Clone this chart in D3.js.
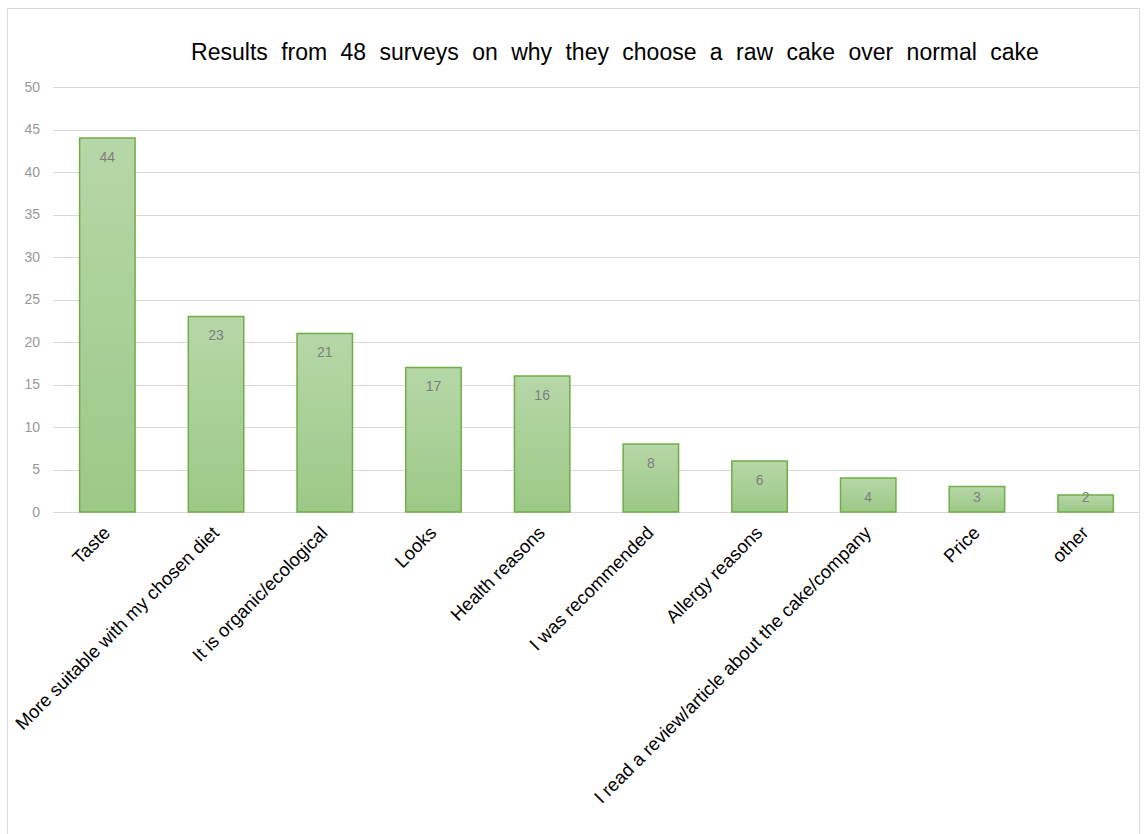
<!doctype html>
<html lang="en">
<head>
  <meta charset="utf-8">
  <title>Raw cake survey</title>
  <style>
    body { margin: 0; background: #fff; }
    svg { font-family: "Liberation Sans", Arial, sans-serif; }
    .grid line { stroke: #d9d9d9; }
    .bar { stroke: #70ad47; stroke-width: 1.5; }
  </style>
</head>
<body>
  <div id="chart"></div>

  <script src="https://d3js.org/d3.v7.min.js"></script>
  <script>
    const categories = ['Taste', 'More suitable with my chosen diet', 'It is organic/ecological', 'Looks',
      'Health reasons', 'I was recommended', 'Allergy reasons',
      'I read a review/article about the cake/company', 'Price', 'other'];
    const counts = [44, 23, 21, 17, 16, 8, 6, 4, 3, 2];
    const yTicks = [0, 5, 10, 15, 20, 25, 30, 35, 40, 45, 50];
    const title = 'Results from 48 surveys on why they choose a raw cake over normal cake';

    const width = 1147, height = 834;
    const margin = { top: 87, right: 7, bottom: 322, left: 53 };

    const svg = d3.select('#chart').append('svg')
      .attr('width', width)
      .attr('height', height);

    // chart frame
    svg.append('rect')
      .attr('x', 7.5).attr('y', 8.5)
      .attr('width', 1132).attr('height', 900)
      .attr('fill', 'none')
      .attr('stroke', '#d9d9d9');

    const defs = svg.append('defs');
    const grad = defs.append('linearGradient')
      .attr('id', 'barGrad')
      .attr('x1', 0).attr('y1', 0).attr('x2', 0).attr('y2', 1);
    grad.append('stop').attr('offset', '0%').attr('stop-color', '#b6d7a8');
    grad.append('stop').attr('offset', '100%').attr('stop-color', '#9cc986');

    const x = d3.scaleBand()
      .domain(categories)
      .range([margin.left, width - margin.right])
      .paddingInner(0.49)
      .paddingOuter(0.245);

    const y = d3.scaleLinear()
      .domain([0, 50])
      .range([height - margin.bottom, margin.top]);

    // gridlines
    svg.append('g')
      .attr('class', 'grid')
      .selectAll('line')
      .data(yTicks)
      .join('line')
      .attr('x1', margin.left)
      .attr('x2', width - margin.right)
      .attr('y1', d => Math.round(y(d)) + 0.5)
      .attr('y2', d => Math.round(y(d)) + 0.5);

    // y tick labels
    svg.append('g')
      .selectAll('text')
      .data(yTicks)
      .join('text')
      .attr('x', 40)
      .attr('y', d => y(d))
      .attr('dy', '0.35em')
      .attr('text-anchor', 'end')
      .attr('fill', '#999')
      .style('font-size', '14px')
      .text(d => d);

    // bars
    svg.append('g')
      .selectAll('rect')
      .data(counts)
      .join('rect')
      .attr('class', 'bar')
      .attr('x', (d, i) => x(categories[i]))
      .attr('y', d => y(d))
      .attr('width', x.bandwidth())
      .attr('height', d => y(0) - y(d))
      .attr('fill', 'url(#barGrad)');

    // value labels
    svg.append('g')
      .selectAll('text')
      .data(counts)
      .join('text')
      .attr('x', (d, i) => x(categories[i]) + x.bandwidth() / 2)
      .attr('y', d => Math.min(y(d) + 19, y(0) - 15))
      .attr('dy', '0.35em')
      .attr('text-anchor', 'middle')
      .attr('fill', '#808080')
      .style('font-size', '14px')
      .text(d => d);

    // category labels
    svg.append('g')
      .selectAll('text')
      .data(categories)
      .join('text')
      .attr('transform', d => `translate(${x(d) + x.bandwidth() / 2 + 4},${y(0) + 22}) rotate(-45)`)
      .attr('text-anchor', 'end')
      .attr('fill', '#000')
      .style('font-size', '18.5px')
      .text(d => d);

    // title
    svg.append('text')
      .attr('x', 615)
      .attr('y', 60)
      .attr('text-anchor', 'middle')
      .attr('fill', '#000')
      .style('font-size', '23px')
      .style('word-spacing', '7px')
      .text(title);
  </script>
</body>
</html>
